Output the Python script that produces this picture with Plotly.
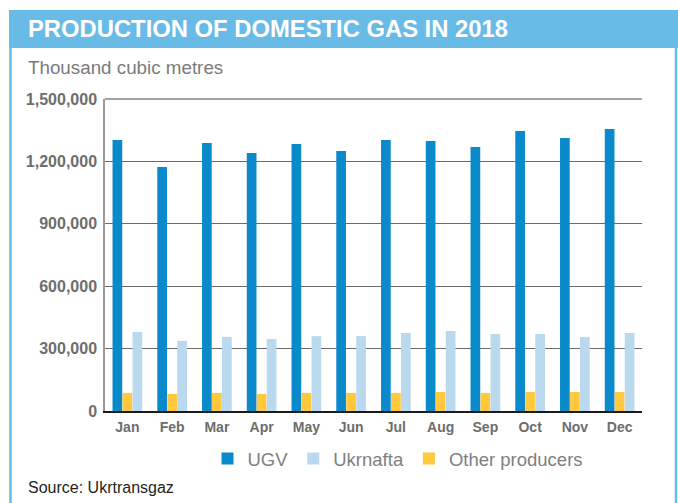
import plotly.graph_objects as go

months = ["Jan", "Feb", "Mar", "Apr", "May", "Jun", "Jul", "Aug", "Sep", "Oct", "Nov", "Dec"]
ugv = [1303000, 1173000, 1288000, 1240000, 1284000, 1250000, 1303000, 1298000, 1269000, 1346000, 1312000, 1356000]
ukrnafta = [380000, 337000, 356000, 346000, 360000, 360000, 375000, 385000, 370000, 370000, 356000, 375000]
other = [87000, 82000, 87000, 82000, 87000, 87000, 87000, 91000, 87000, 91000, 91000, 91000]
y_ticks = [0, 300000, 600000, 900000, 1200000, 1500000]

W, H = 678, 503
L, R, T, B = 105, 642, 99, 411
pw, ph = R - L, B - T


def px(x):
    return (x - L) / pw


def py(y):
    return (B - y) / ph


FRAME = "#68bbe6"
FONT = "Liberation Sans, Arial, sans-serif"

fig = go.Figure()
fig.add_trace(go.Bar(name="UGV", x=months, y=ugv, marker_color="#0a8acb",
                     marker_line_width=0, legendrank=1))
fig.add_trace(go.Bar(name="Other producers", x=months, y=other, marker_color="#ffc83d",
                     marker_line_width=0, legendrank=3))
fig.add_trace(go.Bar(name="Ukrnafta", x=months, y=ukrnafta, marker_color="#bad8ee",
                     marker_line_width=0, legendrank=2))

shapes = [
    dict(type="rect", xref="paper", yref="paper", x0=px(9), x1=px(678), y0=py(10), y1=py(48),
         fillcolor=FRAME, line_width=0, layer="below"),
    dict(type="line", xref="paper", yref="paper", x0=px(10.5), x1=px(10.5), y0=py(48), y1=py(503),
         line=dict(color=FRAME, width=2.5)),
    dict(type="line", xref="paper", yref="paper", x0=px(676), x1=px(676), y0=py(10), y1=py(503),
         line=dict(color=FRAME, width=2.5)),
    dict(type="line", xref="paper", yref="paper", x0=0, x1=1, y0=1, y1=1,
         line=dict(color="#a3a3a3", width=2)),
]

annotations = [
    dict(text="<b>PRODUCTION OF DOMESTIC GAS IN 2018</b>", xref="paper", yref="paper",
         x=px(26), y=py(29), xanchor="left", yanchor="middle", showarrow=False,
         font=dict(family=FONT, size=23.8, color="white")),
    dict(text="Thousand cubic metres", xref="paper", yref="paper",
         x=px(26), y=py(68), xanchor="left", yanchor="middle", showarrow=False,
         font=dict(family=FONT, size=18.8, color="#7b7b7b")),
    dict(text="Source: Ukrtransgaz", xref="paper", yref="paper",
         x=px(26), y=py(487), xanchor="left", yanchor="middle", showarrow=False,
         font=dict(family=FONT, size=16, color="#231f20")),
]

fig.update_layout(
    width=W, height=H,
    margin=dict(l=L, r=W - R, t=T, b=H - B, pad=0),
    paper_bgcolor="white", plot_bgcolor="white",
    barmode="group", bargap=0.33, bargroupgap=0.03,
    font=dict(family=FONT),
    showlegend=True,
    legend=dict(orientation="h", x=px(398), xanchor="center", y=py(459), yanchor="middle",
                font=dict(family=FONT, size=18.5, color="#808080"), traceorder="normal",
                itemwidth=30, bgcolor="rgba(0,0,0,0)"),
    shapes=shapes, annotations=annotations,
)
fig.update_xaxes(showline=True, linecolor="#1a1a1a", linewidth=2, ticks="",
                 tickfont=dict(family=FONT, size=14, color="#6d6d6d", weight="bold"),
                 showgrid=False, ticklabelstandoff=2)
fig.update_yaxes(range=[0, 1500000], tickvals=y_ticks, tickformat=",",
                 showgrid=True, gridcolor="#6a6a6a", gridwidth=1.2, zeroline=False,
                 showline=True, linecolor="#9a9a9a", linewidth=1.5, ticks="",
                 tickfont=dict(family=FONT, size=16, color="#6d6d6d", weight="bold"),
                 ticklabelstandoff=3)

fig.write_html("out.html", config={"displayModeBar": False},
               post_script="document.body.style.margin='0px';")
